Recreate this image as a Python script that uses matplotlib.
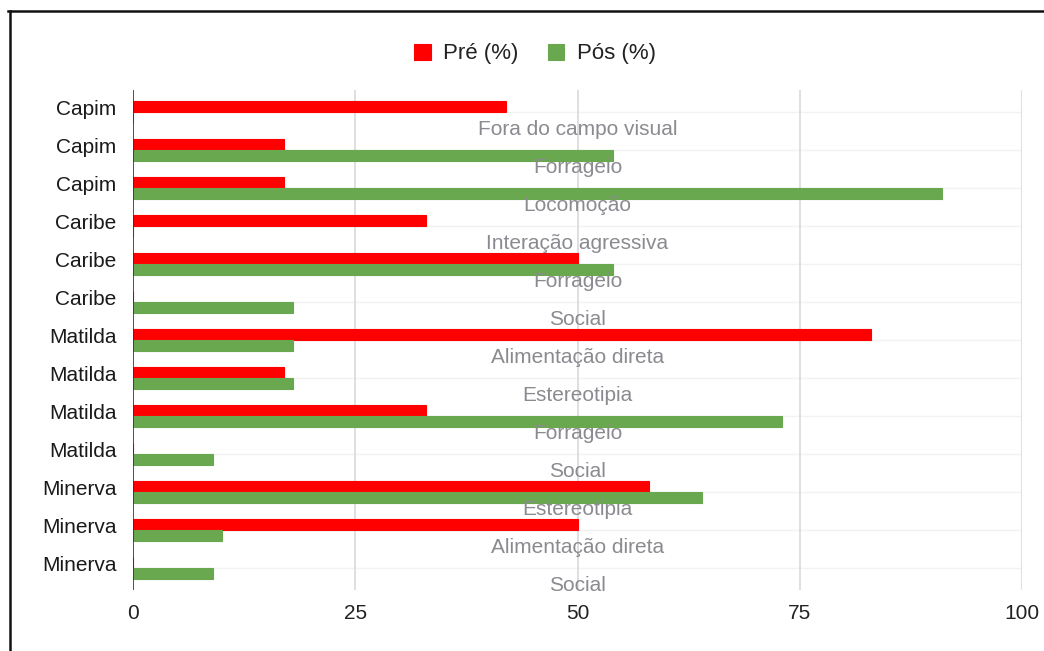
import matplotlib
matplotlib.use("Agg")
import matplotlib.pyplot as plt
import numpy as np

# Behaviour observations per animal, before (Pré) and after (Pós)
animals = ["Capim", "Capim", "Capim", "Caribe", "Caribe", "Caribe",
           "Matilda", "Matilda", "Matilda", "Matilda",
           "Minerva", "Minerva", "Minerva"]
behaviours = ["Fora do campo visual", "Forrageio", "Locomoção",
              "Interação agressiva", "Forrageio", "Social",
              "Alimentação direta", "Estereotipia", "Forrageio", "Social",
              "Estereotipia", "Alimentação direta", "Social"]
pre_pct = [42, 17, 17, 33, 50, 0, 83, 17, 33, 0, 58, 50, 0]
pos_pct = [0, 54, 91, 0, 54, 18, 18, 18, 73, 9, 64, 10, 9]
x_ticks = [0, 25, 50, 75, 100]

RED = "#ff0000"
GREEN = "#6aa84f"
FONT = "Liberation Sans"

plt.rcParams["font.family"] = [FONT, "DejaVu Sans"]

fig = plt.figure(figsize=(10.44, 6.51), dpi=100)
ax = fig.add_axes([133 / 1044, 1 - 590 / 651, (1022 - 133) / 1044, 500 / 651])

y = np.arange(len(animals))
h = 0.29
ax.barh(y - h / 2, pre_pct, height=h, color=RED, edgecolor=RED,
        linewidth=0.8, label="Pré (%)", zorder=3)
ax.barh(y + h / 2, pos_pct, height=h, color=GREEN, edgecolor=GREEN,
        linewidth=0.8, label="Pós (%)", zorder=3)

# Behaviour annotations
for yi, txt in zip(y, behaviours):
    ax.text(50, yi + 0.46, txt, ha="center", va="center", fontsize=15,
            color="#8a8a90", zorder=4)

ax.set_xlim(0, 100)
ax.set_ylim(len(animals) - 0.42, -0.58)
ax.set_xticks(x_ticks)
ax.set_xticklabels([str(t) for t in x_ticks], fontsize=15, color="#222222")
ax.set_yticks(y - 0.12)
ax.set_yticklabels(animals, fontsize=15, color="#1a1a1a")
ax.tick_params(axis="both", length=0)
ax.tick_params(axis="y", pad=12)
ax.tick_params(axis="x", pad=10)

for t in x_ticks[1:]:
    ax.axvline(t, color="#d9d9d9", linewidth=1.2, zorder=1)
for yi in y:
    ax.axhline(yi, color="#f2f2f2", linewidth=1, zorder=0)
ax.axvline(0, color="#333333", linewidth=1.2, zorder=5)

for s in ax.spines.values():
    s.set_visible(False)

leg = fig.legend(loc="center", bbox_to_anchor=(535 / 1044, 1 - 54 / 651),
                 ncol=2, frameon=False, fontsize=16, handlelength=0.75,
                 handleheight=0.75, handletextpad=0.55, columnspacing=1.3)
for t in leg.get_texts():
    t.set_color("#222222")

# Chart frame
fig.add_artist(plt.Line2D([8 / 1044, 1], [1 - 11 / 651, 1 - 11 / 651],
                          transform=fig.transFigure, color="#111111", linewidth=1.8))
fig.add_artist(plt.Line2D([10 / 1044, 10 / 1044], [0, 1 - 11 / 651],
                          transform=fig.transFigure, color="#111111", linewidth=1.8))

fig.savefig("out.png", dpi=100, facecolor="white")
